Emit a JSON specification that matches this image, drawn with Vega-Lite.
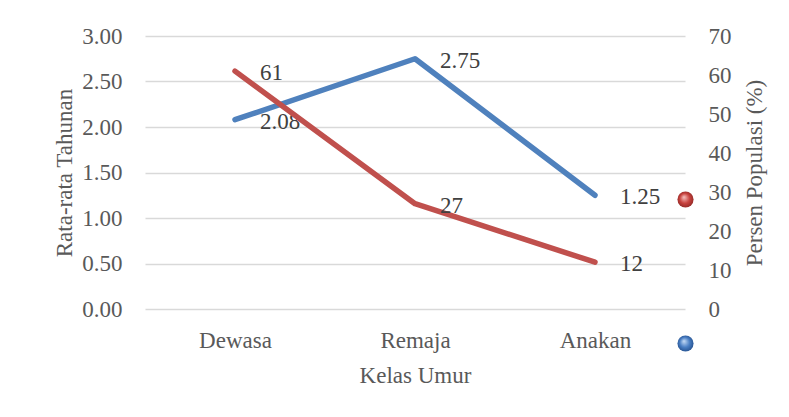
{
  "$schema": "https://vega.github.io/schema/vega-lite/v6.json",
  "width": 540,
  "height": 273,
  "autosize": {"type": "none"},
  "padding": {"left": 145, "top": 36, "right": 104, "bottom": 108},
  "background": "white",
  "config": {
    "view": {"stroke": null},
    "font": "Liberation Serif",
    "axis": {
      "domain": false,
      "ticks": false,
      "labelFont": "Liberation Serif",
      "labelFontSize": 23,
      "labelColor": "#595959",
      "titleFont": "Liberation Serif",
      "titleFontSize": 23,
      "titleFontWeight": "normal",
      "titleColor": "#595959",
      "gridColor": "#d9d9d9",
      "gridWidth": 1.5
    }
  },
  "data": {
    "values": [
      {"kelas": "Dewasa", "rata": 2.08, "persen": 61},
      {"kelas": "Remaja", "rata": 2.75, "persen": 27},
      {"kelas": "Anakan", "rata": 1.25, "persen": 12}
    ]
  },
  "encoding": {
    "x": {
      "field": "kelas",
      "type": "nominal",
      "sort": ["Dewasa", "Remaja", "Anakan"],
      "scale": {"type": "point", "padding": 0.5},
      "axis": {"title": "Kelas Umur", "labelAngle": 0, "labelPadding": 20, "titlePadding": 12, "grid": false}
    }
  },
  "layer": [
    {
      "encoding": {
        "y": {
          "field": "rata",
          "type": "quantitative",
          "scale": {"domain": [0, 3]},
          "axis": {
            "title": "Rata-rata Tahunan",
            "orient": "left",
            "values": [0, 0.5, 1, 1.5, 2, 2.5, 3],
            "format": ".2f",
            "labelPadding": 23,
            "titlePadding": 5,
            "grid": true
          }
        }
      },
      "layer": [
        {
          "mark": {"type": "line", "strokeWidth": 5.5, "strokeCap": "round", "strokeJoin": "round"},
          "encoding": {
            "color": {
              "datum": "Rata-rata Tahunan",
              "scale": {"domain": ["Persen Populasi (%)", "Rata-rata Tahunan"], "range": ["#c0504d", "#4f81bd"]},
              "legend": {
                "orient": "none",
                "legendX": 532,
                "legendY": 155,
                "title": null,
                "padding": 0,
                "symbolType": "circle",
                "symbolSize": 260,
                "symbolStrokeWidth": 0,
                "labelExpr": "''",
                "labelFontSize": 1,
                "rowPadding": 127,
                "encode": {
                  "symbols": {
                    "update": {
                      "fill": [
                        {"test": "datum.value === 'Persen Populasi (%)'", "value": {"gradient": "radial", "x1": 0.4, "y1": 0.35, "r1": 0, "x2": 0.5, "y2": 0.5, "r2": 0.55, "stops": [{"offset": 0, "color": "#f6c3c1"}, {"offset": 0.55, "color": "#c9433f"}, {"offset": 1, "color": "#8e2724"}]}},
                        {"value": {"gradient": "radial", "x1": 0.4, "y1": 0.35, "r1": 0, "x2": 0.5, "y2": 0.5, "r2": 0.55, "stops": [{"offset": 0, "color": "#c6dcf6"}, {"offset": 0.55, "color": "#4a7fc4"}, {"offset": 1, "color": "#234f8c"}]}}
                      ],
                      "stroke": {"value": "transparent"}
                    }
                  }
                }
              }
            }
          }
        },
        {
          "mark": {"type": "text", "align": "left", "baseline": "middle", "dx": 25, "dy": 2, "fontSize": 23, "font": "Liberation Serif", "color": "#404040"},
          "encoding": {"text": {"field": "rata", "type": "quantitative", "format": ".2f"}}
        }
      ]
    },
    {
      "encoding": {
        "y": {
          "field": "persen",
          "type": "quantitative",
          "scale": {"domain": [0, 70]},
          "axis": {
            "title": "Persen Populasi (%)",
            "orient": "right",
            "titleAngle": 270,
            "titleBaseline": "top",
            "values": [0, 10, 20, 30, 40, 50, 60, 70],
            "labelPadding": 23,
            "titlePadding": 12,
            "grid": false
          }
        }
      },
      "layer": [
        {
          "mark": {"type": "line", "strokeWidth": 5.5, "strokeCap": "round", "strokeJoin": "round"},
          "encoding": {"color": {"datum": "Persen Populasi (%)"}}
        },
        {
          "mark": {"type": "text", "align": "left", "baseline": "middle", "dx": 25, "dy": 2, "fontSize": 23, "font": "Liberation Serif", "color": "#404040"},
          "encoding": {"text": {"field": "persen", "type": "quantitative"}}
        }
      ]
    }
  ],
  "resolve": {"scale": {"y": "independent"}}
}
